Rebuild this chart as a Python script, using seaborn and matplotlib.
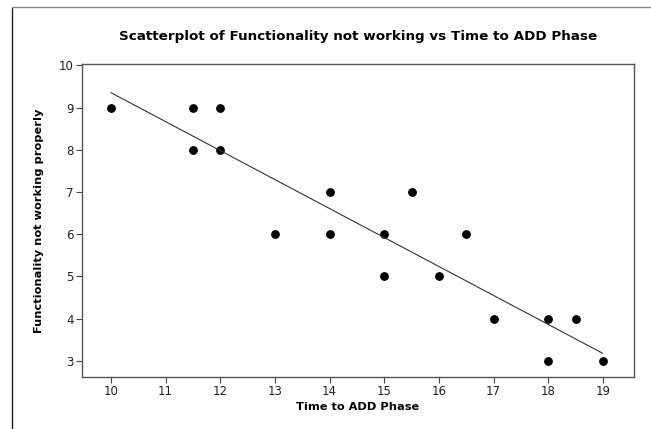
import matplotlib
matplotlib.use("Agg")
import matplotlib.pyplot as plt
from matplotlib.lines import Line2D
import seaborn as sns
import pandas as pd

time_to_add = [10, 11.5, 11.5, 12, 12, 13, 14, 14, 15, 15, 15.5, 16, 16.5, 17, 18, 18, 18.5, 19]
functionality = [9, 9, 8, 9, 8, 6, 7, 6, 6, 5, 7, 5, 6, 4, 4, 3, 4, 3]
x_ticks = [10, 11, 12, 13, 14, 15, 16, 17, 18, 19]
y_ticks = [3, 4, 5, 6, 7, 8, 9, 10]

df = pd.DataFrame({"Time to ADD Phase": time_to_add,
                   "Functionality not working properly": functionality})

sns.set_style("white")
plt.rcParams['font.family'] = ['DejaVu Sans']

fig = plt.figure(figsize=(6.51, 4.29), dpi=100)
ax = fig.add_axes([82/651, 1-377/429, (634-82)/651, (377-64)/429])

sns.regplot(data=df, x="Time to ADD Phase", y="Functionality not working properly",
            ci=None, ax=ax,
            scatter_kws=dict(s=40, color="black", edgecolor="black", linewidths=0, alpha=1),
            line_kws=dict(color="#333333", lw=0.8))

ax.set_xlim(9.47, 19.57)
ax.set_ylim(2.62, 10.03)
ax.set_xticks(x_ticks)
ax.set_yticks(y_ticks)
ax.tick_params(axis="both", direction="out", length=4, width=0.8, color="#444444",
               labelsize=8.5, pad=2, bottom=True, left=True, labelcolor="#222222")
for sp in ax.spines.values():
    sp.set_color("#555555")
    sp.set_linewidth(1.0)

ax.set_title("Scatterplot of Functionality not working vs Time to ADD Phase",
             fontsize=9.7, fontweight="bold", pad=17, color="black")
ax.set_xlabel("Time to ADD Phase", fontsize=8.2, fontweight="bold", labelpad=3, color="black")
ax.set_ylabel("Functionality not working properly", fontsize=8.2, fontweight="bold",
              labelpad=11, color="black")

fig.add_artist(Line2D([12/651, 12/651], [0, 1-8/429], color="#222222", lw=1.0))
fig.add_artist(Line2D([12/651, 1], [1-7/429, 1-7/429], color="#888888", lw=1.0))

fig.savefig("out.png", dpi=100)
